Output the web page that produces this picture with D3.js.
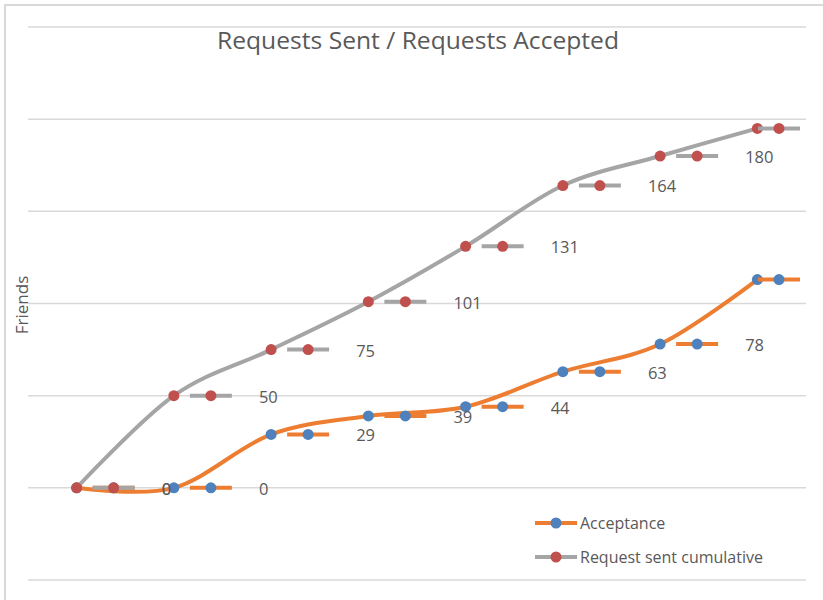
<!DOCTYPE html>
<html>
<head>
<meta charset="utf-8">
<script src="https://cdn.jsdelivr.net/npm/d3@7"></script>
<style>
  html, body { margin: 0; padding: 0; background: #fff; }
  svg { display: block; }
</style>
</head>
<body>
<svg id="chart" width="823" height="600"></svg>
<script>
// ---- data ----
const categories = ["1", "2", "3", "4", "5", "6", "7", "8"];
const acceptance = [0, 0, 29, 39, 44, 63, 78, 113];
const requestsSent = [0, 50, 75, 101, 131, 164, 180, 195];
const yTicks = [-50, 0, 50, 100, 150, 200, 250];
const seriesNames = ["Acceptance", "Request sent cumulative"];
const titleText = "Requests Sent / Requests Accepted";
const yAxisTitle = "Friends";

// ---- styles ----
const W = 823, H = 600;
const plot = { left: 28, right: 806, top: 27, bottom: 580 };
const textColor = "#595959";
const styles = [
  { line: "#ED7D31", marker: "#4F81BD" },
  { line: "#A5A5A5", marker: "#C0504D" }
];
const series = [
  { name: seriesNames[0], values: acceptance, style: styles[0] },
  { name: seriesNames[1], values: requestsSent, style: styles[1] }
];

const svg = d3.select("#chart");

// chart area border
svg.append("path")
  .attr("d", `M5,${H + 5} L5,5 L${W + 5},5`)
  .attr("fill", "none")
  .attr("stroke", "#D9D9D9")
  .attr("stroke-width", 2);

const x = d3.scalePoint().domain(categories).range([plot.left, plot.right]).padding(0.5);
const y = d3.scaleLinear().domain([-50, 250]).range([plot.bottom, plot.top]);

// gridlines
svg.append("g").selectAll("line").data(yTicks).join("line")
  .attr("x1", plot.left).attr("x2", plot.right)
  .attr("y1", d => y(d)).attr("y2", d => y(d))
  .attr("stroke", "#D9D9D9").attr("stroke-width", 1.5);

// title
svg.append("text")
  .attr("x", 418).attr("y", 49)
  .attr("text-anchor", "middle")
  .attr("font-family", "Open Sans, sans-serif")
  .attr("font-size", 23)
  .attr("fill", textColor)
  .attr("textLength", 402)
  .attr("lengthAdjust", "spacingAndGlyphs")
  .text(titleText);

// y axis title
svg.append("text")
  .attr("transform", `translate(28,305) rotate(-90)`)
  .attr("text-anchor", "middle")
  .attr("font-family", "Open Sans, sans-serif")
  .attr("font-size", 17)
  .attr("fill", textColor)
  .text(yAxisTitle);

const line = d3.line()
  .x((d, i) => x(categories[i]))
  .y(d => y(d))
  .curve(d3.curveCardinal.tension(0));

// series lines + markers
series.forEach(s => {
  const g = svg.append("g");
  g.append("path")
    .datum(s.values)
    .attr("d", line)
    .attr("fill", "none")
    .attr("stroke", s.style.line)
    .attr("stroke-width", 4)
    .attr("stroke-linecap", "round");
  g.selectAll("circle").data(s.values).join("circle")
    .attr("cx", (d, i) => x(categories[i]))
    .attr("cy", d => y(d))
    .attr("r", 5.5)
    .attr("fill", s.style.marker);
});

// data labels with legend keys
function keyGlyph(g, cx, cy, style) {
  g.append("line")
    .attr("x1", cx - 21).attr("x2", cx + 21)
    .attr("y1", cy).attr("y2", cy)
    .attr("stroke", style.line).attr("stroke-width", 4);
  g.append("circle")
    .attr("cx", cx).attr("cy", cy).attr("r", 5.5)
    .attr("fill", style.marker);
}

series.forEach(s => {
  const g = svg.append("g");
  s.values.forEach((v, i) => {
    const px = x(categories[i]);
    const py = y(v);
    // shift the label left if it would pass the plot edge
    const keyCx = Math.min(px + 37, plot.right - 27);
    keyGlyph(g, keyCx, py, s.style);
    const numX = keyCx + 48;
    if (numX < W - 20) {
      g.append("text")
        .attr("x", numX).attr("y", py + 1)
        .attr("dy", "0.36em")
        .attr("text-anchor", "start")
        .attr("font-family", "Open Sans, sans-serif")
        .attr("font-size", 16.5)
        .attr("fill", textColor)
        .text(v);
    }
  });
});

// legend
const legend = svg.append("g");
series.forEach((s, i) => {
  const ly = 523 + i * 34;
  keyGlyph(legend, 556, ly, s.style);
  legend.append("text")
    .attr("x", 580).attr("y", ly)
    .attr("dy", "0.36em")
    .attr("font-family", "Open Sans, sans-serif")
    .attr("font-size", 16)
    .attr("fill", textColor)
    .text(s.name);
});
</script>
</body>
</html>
